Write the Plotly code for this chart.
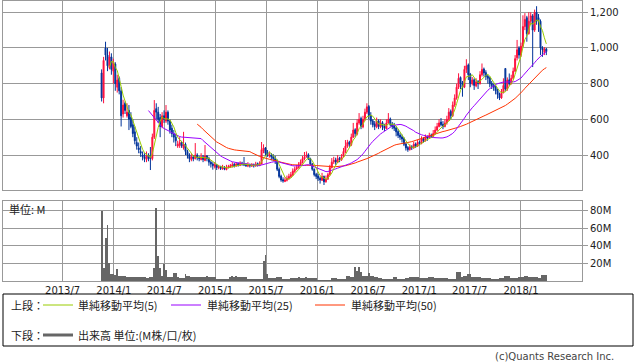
import pandas as pd
import plotly.graph_objects as go

W, H = 638, 362

start_date = "2013-11-18"

opens = [
    860, 720, 1000, 960, 890, 950, 870, 910, 780, 830,
    760, 630, 690, 620, 650, 610, 570, 530, 470, 440,
    420, 400, 390, 375, 400, 390, 380, 500, 660, 640,
    610, 560, 620, 590, 640, 590, 550, 520, 500, 450,
    455, 470, 440, 460, 420, 400, 375, 390, 380, 400,
    385, 375, 390, 370, 395, 380, 360, 350, 335, 345,
    330, 335, 322, 330, 318, 330, 332, 338, 348, 338,
    352, 342, 355, 350, 348, 338, 346, 338, 345, 338,
    352, 342, 350, 425, 440, 410, 395, 400, 392, 380,
    370, 320, 282, 262, 252, 258, 268, 278, 288, 308,
    322, 328, 342, 358, 378, 392, 402, 380, 350, 320,
    292, 282, 270, 258, 280, 250, 265, 290, 330, 362,
    372, 358, 382, 372, 392, 418, 450, 472, 458, 500,
    542, 518, 580, 605, 558, 600, 640, 672, 622, 592,
    575, 558, 592, 558, 582, 562, 548, 580, 602, 572,
    562, 552, 532, 512, 502, 492, 462, 442, 430, 447,
    440, 462, 450, 472, 465, 492, 480, 502, 495, 512,
    505, 520, 540, 560, 585, 572, 560, 580, 600, 645,
    620, 680, 720, 780, 835, 805, 780, 880, 905, 852,
    800, 822, 788, 812, 800, 850, 882, 862, 842, 832,
    802, 792, 782, 762, 742, 720, 750, 885, 770, 822,
    800, 830, 870, 945, 1000, 960, 1010, 1120, 1170, 1080,
    1150, 1180, 1100, 1200, 1170, 1150, 1000, 975, 995,
]
highs = [
    880, 950, 1035, 1000, 980, 970, 940, 920, 850, 840,
    780, 710, 700, 690, 680, 640, 600, 560, 500, 470,
    450, 420, 410, 420, 410, 445, 520, 708, 690, 670,
    630, 640, 650, 680, 650, 600, 570, 540, 520, 480,
    500, 480, 530, 470, 430, 410, 410, 400, 467, 410,
    395, 410, 400, 456, 400, 390, 370, 360, 360, 350,
    345, 340, 345, 338, 345, 345, 350, 360, 355, 360,
    358, 365, 362, 389, 355, 360, 352, 355, 352, 362,
    358, 365, 473, 460, 445, 428, 420, 411, 405, 395,
    375, 330, 290, 275, 275, 285, 295, 305, 325, 335,
    345, 360, 375, 395, 417, 420, 410, 385, 355, 325,
    300, 295, 280, 300, 285, 285, 300, 345, 383, 390,
    385, 400, 390, 405, 440, 484, 485, 480, 520, 580,
    550, 600, 635, 615, 620, 660, 690, 680, 640, 600,
    590, 610, 600, 600, 590, 575, 600, 635, 610, 585,
    580, 560, 545, 525, 515, 500, 470, 450, 460, 455,
    475, 470, 484, 480, 505, 500, 515, 510, 525, 520,
    540, 560, 580, 600, 607, 590, 600, 620, 663, 655,
    700, 740, 800, 858, 840, 815, 900, 937, 913, 860,
    837, 830, 830, 820, 870, 913, 890, 875, 850, 840,
    815, 800, 790, 770, 750, 770, 830, 885, 835, 857,
    850, 890, 960, 1045, 1010, 1030, 1183, 1195, 1180, 1200,
    1200, 1190, 1215, 1234, 1190, 1160, 1010, 1005, 1000,
]
lows = [
    700, 690, 930, 870, 880, 850, 800, 760, 750, 740,
    560, 610, 630, 610, 540, 550, 500, 460, 430, 410,
    390, 370, 360, 360, 365, 316, 370, 490, 600, 580,
    500, 550, 580, 580, 570, 520, 500, 470, 450, 440,
    440, 440, 430, 400, 380, 360, 365, 365, 375, 370,
    365, 370, 360, 365, 365, 340, 330, 318, 325, 316,
    320, 316, 318, 315, 315, 325, 328, 330, 330, 335,
    335, 338, 340, 338, 333, 332, 330, 333, 330, 335,
    335, 338, 348, 410, 395, 390, 385, 370, 365, 350,
    310, 270, 250, 245, 248, 252, 262, 272, 282, 300,
    315, 325, 338, 352, 370, 385, 372, 340, 312, 280,
    265, 255, 240, 255, 232, 245, 260, 285, 325, 350,
    345, 355, 360, 368, 388, 410, 440, 445, 450, 495,
    500, 510, 570, 545, 550, 590, 630, 600, 570, 555,
    540, 550, 545, 550, 540, 535, 545, 575, 560, 545,
    535, 505, 495, 485, 470, 450, 425, 418, 425, 428,
    435, 440, 445, 455, 460, 470, 475, 480, 490, 495,
    500, 515, 535, 555, 560, 545, 555, 570, 590, 600,
    613, 670, 710, 770, 770, 727, 775, 860, 820, 780,
    790, 765, 780, 770, 795, 840, 840, 820, 800, 780,
    770, 760, 740, 715, 708, 715, 745, 760, 760, 790,
    795, 825, 865, 930, 940, 950, 1005, 1100, 1035, 1075,
    1130, 893, 1090, 1130, 1090, 960, 950, 960, 960,
]
closes = [
    720, 930, 960, 900, 950, 880, 920, 800, 820, 760,
    620, 680, 650, 640, 600, 560, 520, 480, 450, 430,
    410, 390, 380, 400, 380, 380, 500, 650, 640, 600,
    560, 620, 600, 640, 590, 540, 520, 500, 480, 460,
    470, 450, 460, 420, 400, 380, 390, 380, 400, 385,
    380, 390, 375, 395, 380, 360, 350, 340, 345, 330,
    335, 325, 330, 320, 330, 335, 340, 345, 340, 350,
    345, 355, 350, 345, 340, 345, 340, 345, 340, 350,
    345, 350, 430, 440, 410, 400, 400, 390, 380, 370,
    320, 280, 260, 255, 260, 270, 280, 290, 310, 320,
    330, 345, 360, 380, 390, 400, 380, 350, 320, 290,
    280, 270, 260, 280, 250, 265, 290, 330, 360, 370,
    360, 380, 375, 390, 420, 450, 470, 460, 500, 540,
    520, 580, 600, 560, 600, 640, 670, 620, 590, 570,
    560, 590, 560, 580, 560, 550, 580, 600, 570, 560,
    550, 530, 510, 500, 490, 460, 440, 430, 445, 440,
    460, 450, 470, 465, 490, 480, 500, 495, 510, 505,
    520, 540, 560, 580, 570, 560, 580, 600, 640, 620,
    680, 720, 780, 830, 800, 780, 880, 900, 850, 800,
    820, 790, 810, 800, 850, 880, 860, 840, 830, 800,
    790, 780, 760, 740, 720, 750, 790, 770, 820, 800,
    830, 870, 940, 990, 960, 1010, 1120, 1160, 1080, 1150,
    1180, 1100, 1200, 1150, 1150, 1000, 990, 995, 980,
]
volumes_m = [
    80, 15, 49, 64, 21, 8, 8, 7, 14, 6,
    6, 6, 6, 4, 4, 4, 4, 5, 5, 5,
    4, 5, 4, 3, 3, 4, 4, 15, 83, 28,
    15, 6, 19, 13, 5, 5, 5, 9, 9, 4,
    3, 3, 3, 8, 6, 6, 5, 4, 5, 5,
    5, 5, 5, 5, 6, 4, 4, 4, 4, 2,
    2, 2, 2, 2, 2, 2, 5, 6, 5, 6,
    4, 4, 4, 4, 4, 2, 2, 2, 2, 2,
    2, 2, 2, 23, 30, 8, 3, 3, 3, 3,
    5, 5, 5, 2, 2, 2, 2, 3, 3, 3,
    3, 5, 3, 3, 3, 5, 3, 3, 3, 3,
    3, 1, 1, 1, 1, 1, 1, 1, 3, 3,
    3, 2, 2, 2, 2, 2, 6, 6, 4, 4,
    16, 11, 16, 10, 6, 6, 6, 9, 6, 6,
    5, 5, 3, 3, 2, 2, 2, 2, 2, 2,
    4, 4, 2, 2, 2, 2, 3, 3, 5, 5,
    5, 4, 4, 3, 3, 3, 3, 3, 4, 4,
    4, 3, 3, 3, 3, 3, 3, 3, 2, 2,
    2, 2, 10, 10, 10, 5, 6, 6, 8, 8,
    5, 5, 4, 4, 4, 3, 3, 3, 3, 3,
    2, 2, 2, 2, 3, 3, 3, 6, 6, 6,
    3, 3, 3, 3, 4, 4, 4, 6, 6, 5,
    5, 5, 5, 5, 3, 3, 7, 7, 7,
]

grid_dates = ["2013-07-01", "2014-01-01", "2014-07-01", "2015-01-01", "2015-07-01",
              "2016-01-01", "2016-07-01", "2017-01-01", "2017-07-01", "2018-01-01"]
grid_labels = ["2013/7", "2014/1", "2014/7", "2015/1", "2015/7",
               "2016/1", "2016/7", "2017/1", "2017/7", "2018/1"]
price_ticks = [400, 600, 800, 1000, 1200]
price_labels = ["400", "600", "800", "1,000", "1,200"]
vol_ticks = [20, 40, 60, 80]
vol_labels = ["20M", "40M", "60M", "80M"]

dates = pd.date_range(start_date, periods=len(closes), freq="7D")
cs = pd.Series(closes, dtype=float)
ma5 = cs.rolling(5).mean()
ma25 = cs.rolling(25).mean()
ma50 = cs.rolling(50).mean()

C_UP = "#ff0f3c"
C_DN = "#003399"
C_MA5 = "#99cc00"
C_MA25 = "#9900ff"
C_MA50 = "#ff3300"
C_GRID = "#999999"
C_VOL = "#666666"

fig = go.Figure()
fig.add_trace(go.Candlestick(
    x=dates, open=opens, high=highs, low=lows, close=closes,
    increasing=dict(line=dict(color=C_UP, width=1), fillcolor=C_UP),
    decreasing=dict(line=dict(color=C_DN, width=1), fillcolor=C_DN),
    whiskerwidth=0, xaxis="x", yaxis="y", hoverinfo="skip", showlegend=False))
for s, c in [(ma50, C_MA50), (ma25, C_MA25), (ma5, C_MA5)]:
    fig.add_trace(go.Scatter(x=dates, y=s, mode="lines", line=dict(color=c, width=1),
                             xaxis="x", yaxis="y", hoverinfo="skip", showlegend=False))
fig.add_trace(go.Bar(x=dates, y=volumes_m, marker=dict(color=C_VOL, line=dict(width=0)),
                     width=7 * 24 * 3600 * 1000, xaxis="x2", yaxis="y2",
                     hoverinfo="skip", showlegend=False))

x_range = ["2012-11-29", "2018-08-08"]
dom_x = [3 / W, 582 / W]
tickfont = dict(family="DejaVu Sans", size=10, color="#222222")

common_x = dict(domain=dom_x, range=x_range, type="date", tickvals=grid_dates,
                showgrid=True, gridcolor=C_GRID, gridwidth=1, showline=True, mirror=True,
                linecolor=C_GRID, linewidth=1, zeroline=False, fixedrange=True)
fig.update_layout(
    width=W, height=H, margin=dict(l=0, r=0, t=0, b=0),
    paper_bgcolor="white", plot_bgcolor="white", showlegend=False, bargap=0,
    xaxis=dict(**common_x, anchor="y", showticklabels=False, ticks="",
               rangeslider=dict(visible=False)),
    xaxis2=dict(**common_x, anchor="y2", ticktext=grid_labels, showticklabels=True,
                ticks="", tickfont=tickfont),
    yaxis=dict(domain=[1 - 190 / H, 1 - 0.5 / H], range=[204, 1266], side="right",
               tickvals=price_ticks, ticktext=price_labels, ticks="outside", ticklen=5,
               tickcolor=C_GRID, showgrid=True, gridcolor=C_GRID, showline=True,
               mirror=True, linecolor=C_GRID, zeroline=False, tickfont=tickfont,
               anchor="x", fixedrange=True),
    yaxis2=dict(domain=[1 - 281 / H, 1 - 201 / H], range=[0, 90.9], side="right",
                tickvals=vol_ticks, ticktext=vol_labels, ticks="outside", ticklen=5,
                tickcolor=C_GRID, showgrid=True, gridcolor=C_GRID, showline=True,
                mirror=True, linecolor=C_GRID, zeroline=False, tickfont=tickfont,
                anchor="x2", fixedrange=True),
)

def px(x):
    return x / W

def py(y):
    return 1 - y / H

jfont = dict(family="Noto Sans CJK JP", size=11, color="#222222")
shapes = [
    dict(type="rect", xref="paper", yref="paper", x0=px(3), x1=px(633), y0=py(294), y1=py(346),
         line=dict(color="#000000", width=1), fillcolor="rgba(0,0,0,0)"),
    dict(type="line", xref="paper", yref="paper", x0=px(43), x1=px(73), y0=py(305), y1=py(305),
         line=dict(color=C_MA5, width=1)),
    dict(type="line", xref="paper", yref="paper", x0=px(171), x1=px(201), y0=py(305), y1=py(305),
         line=dict(color=C_MA25, width=1)),
    dict(type="line", xref="paper", yref="paper", x0=px(315), x1=px(345), y0=py(305), y1=py(305),
         line=dict(color=C_MA50, width=1)),
    dict(type="line", xref="paper", yref="paper", x0=px(43), x1=px(73), y0=py(335), y1=py(335),
         line=dict(color=C_VOL, width=3)),
]
texts = [
    ("上段：", 9, 305), ("単純移動平均(5)", 76, 305), ("単純移動平均(25)", 205, 305),
    ("単純移動平均(50)", 349, 305), ("下段：", 9, 335), ("出来高 単位:(M株/口/枚)", 76, 335),
    ("単位: M", 7, 209),
]
annotations = [dict(text=t, x=px(x), y=py(y), xref="paper", yref="paper", xanchor="left",
                    yanchor="middle", showarrow=False, font=jfont) for t, x, y in texts]
annotations.append(dict(text="(c)Quants Research Inc.", x=px(616), y=py(356), xref="paper",
                        yref="paper", xanchor="right", yanchor="middle", showarrow=False,
                        font=dict(family="DejaVu Sans", size=10, color="#444444")))
fig.update_layout(shapes=shapes, annotations=annotations)

fig.write_html("out.html", config={"displayModeBar": False, "staticPlot": True},
               post_script="document.body.style.margin='0';document.body.style.overflow='hidden';")
